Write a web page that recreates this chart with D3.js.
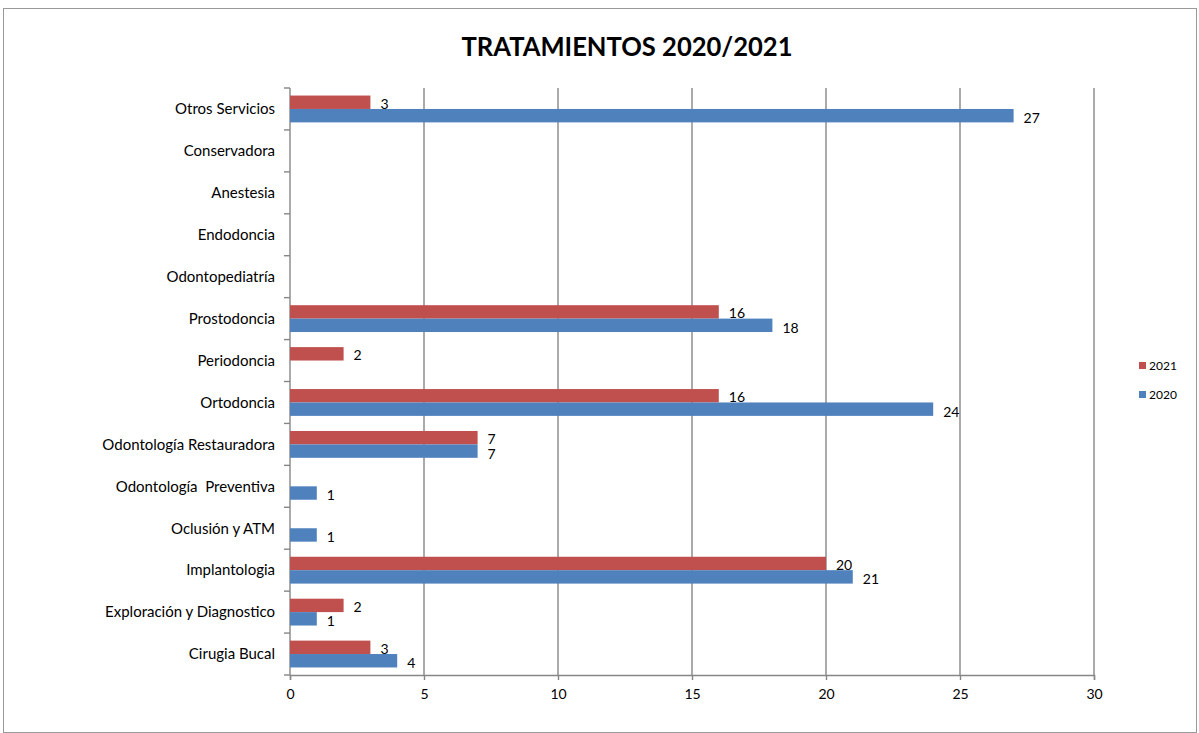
<!DOCTYPE html>
<html>
<head>
<meta charset="utf-8">
<script src="https://cdn.jsdelivr.net/npm/d3@7"></script>
<style>
  body { margin: 0; background: #fff; }
  text { font-family: Lato, "Open Sans", sans-serif; fill: #000; }
</style>
</head>
<body>
<div id="chart"></div>
<script>
// data, bottom to top as in the picture
const categories = [
  "Cirugia Bucal", "Exploración y Diagnostico", "Implantologia", "Oclusión y ATM",
  "Odontología  Preventiva", "Odontología Restauradora", "Ortodoncia", "Periodoncia",
  "Prostodoncia", "Odontopediatría", "Endodoncia", "Anestesia", "Conservadora", "Otros Servicios"
];
const values2020 = [4, 1, 21, 1, 1, 7, 24, 0, 18, 0, 0, 0, 0, 27];
const values2021 = [3, 2, 20, 0, 0, 7, 16, 2, 16, 0, 0, 0, 0, 3];
const xTicks = [0, 5, 10, 15, 20, 25, 30];
const seriesNames = ["2021", "2020"];
const seriesColors = ["#C0504D", "#4F81BD"];

const width = 1199;
const height = 733;
const margin = { top: 88, right: 105, bottom: 58, left: 290 };

const svg = d3.select("#chart")
    .append("svg")
    .attr("width", width)
    .attr("height", height);

// outer frame
svg.append("rect")
    .attr("x", 3.5).attr("y", 8.5)
    .attr("width", 1193).attr("height", 724)
    .attr("fill", "none")
    .attr("stroke", "#9a9a9a");

// Scales
const xScale = d3.scaleLinear()
    .domain([0, 30])
    .range([margin.left, width - margin.right]);

const yScale = d3.scaleBand()
    .domain(categories.slice().reverse())
    .range([margin.top, height - margin.bottom]);

const barH = yScale.bandwidth() * 0.32;

// title
svg.append("text")
    .attr("x", 627)
    .attr("y", 56)
    .attr("text-anchor", "middle")
    .attr("textLength", 331)
    .attr("lengthAdjust", "spacingAndGlyphs")
    .style("font-size", "27px")
    .style("font-weight", "bold")
    .text("TRATAMIENTOS 2020/2021");

// vertical grid lines
svg.append("g")
    .selectAll("line")
    .data(xTicks.slice(1))
    .enter()
    .append("line")
    .attr("x1", d => xScale(d)).attr("x2", d => xScale(d))
    .attr("y1", margin.top).attr("y2", height - margin.bottom)
    .attr("stroke", "#868686")
    .attr("stroke-width", 1.4);

// x axis
const xAxis = svg.append("g")
    .attr("transform", `translate(0, ${height - margin.bottom})`)
    .call(d3.axisBottom(xScale).tickValues(xTicks).tickSize(5).tickPadding(9));
xAxis.select(".domain").attr("stroke", "#868686").attr("stroke-width", 1.4);
xAxis.selectAll(".tick line").attr("stroke", "#868686").attr("stroke-width", 1.4);
xAxis.selectAll("text").style("font-size", "14px").style("font-family", "Lato, sans-serif");

// y axis: ticks on band boundaries
const yAxis = svg.append("g")
    .attr("transform", `translate(${margin.left}, 0)`);
yAxis.append("line")
    .attr("x1", 0).attr("x2", 0)
    .attr("y1", margin.top).attr("y2", height - margin.bottom)
    .attr("stroke", "#868686").attr("stroke-width", 1.4);
const bounds = yScale.domain().map(c => yScale(c)).concat([height - margin.bottom]);
yAxis.selectAll(".btick")
    .data(bounds)
    .enter()
    .append("line")
    .attr("x1", -6).attr("x2", 0)
    .attr("y1", d => d).attr("y2", d => d)
    .attr("stroke", "#868686").attr("stroke-width", 1.4);
yAxis.selectAll(".cat")
    .data(categories)
    .enter()
    .append("text")
    .attr("x", -15)
    .attr("y", d => yScale(d) + yScale.bandwidth() / 2)
    .attr("dy", "0.35em")
    .attr("text-anchor", "end")
    .style("font-size", "15px")
    .style("white-space", "pre")
    .text(d => d);

// bars
const rows = categories.map((c, i) => ({ cat: c, v: [values2021[i], values2020[i]] }));
seriesNames.forEach((name, s) => {
  const yOff = s === 0 ? -barH : 0;
  svg.append("g")
      .selectAll("rect")
      .data(rows)
      .enter()
      .append("rect")
      .attr("x", xScale(0))
      .attr("y", d => yScale(d.cat) + yScale.bandwidth() / 2 + yOff)
      .attr("width", d => xScale(d.v[s]) - xScale(0))
      .attr("height", barH)
      .attr("fill", seriesColors[s]);

  svg.append("g")
      .selectAll("text")
      .data(rows.filter(d => d.v[s] > 0))
      .enter()
      .append("text")
      .attr("x", d => xScale(d.v[s]) + 10)
      .attr("y", d => yScale(d.cat) + yScale.bandwidth() / 2 + yOff + barH / 2 + (s === 0 ? 1.5 : 2.5))
      .attr("dy", "0.35em")
      .style("font-size", "14px")
      .text(d => d.v[s]);
});

// legend
const legend = svg.append("g");
seriesNames.forEach((name, s) => {
  legend.append("rect")
      .attr("x", 1139).attr("y", 362 + s * 29)
      .attr("width", 7).attr("height", 7)
      .attr("fill", seriesColors[s]);
  legend.append("text")
      .attr("x", 1149).attr("y", 366 + s * 29)
      .attr("dy", "0.35em")
      .style("font-size", "12px")
      .text(name);
});
</script>
</body>
</html>
